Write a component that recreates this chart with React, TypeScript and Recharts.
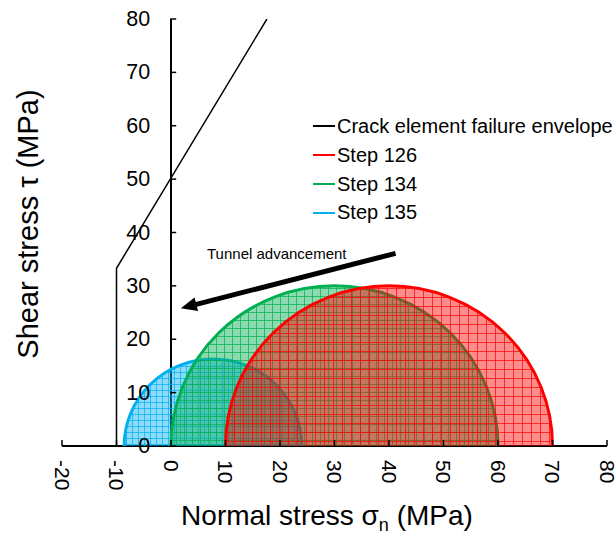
import { ComposedChart, Legend, ReferenceLine, Scatter, XAxis, YAxis } from "recharts";

const WIDTH = 616;
const HEIGHT = 538;
const PLOT = { left: 61, top: 19, right: 607, bottom: 446 };

const SIGMA_MIN = -20;
const SIGMA_MAX = 80;
const TAU_MAX = 80;

const sigmaTicks = [-20, -10, 0, 10, 20, 30, 40, 50, 60, 70, 80];
const tauTicks = [0, 10, 20, 30, 40, 50, 60, 70, 80];

// crack element envelope: tension cut-off, then a straight Coulomb line
const envelopeSigma = [-10, -10, 17.6];
const envelopeTau = [0, 33.3, 80];

// principal stresses (MPa) for each excavation step
const stepNames = ["Step 126", "Step 134", "Step 135"];
const stepColors = ["#ff0000", "#00b050", "#00b0f0"];
const stepGrid = [9, 8, 6];
const sigma3 = [10, 0, -8.6];
const sigma1 = [70, 60, 24];

// arrow showing the direction of tunnel advancement
const arrowSigma = [41.2, 1.8];
const arrowTau = [36.1, 25.8];

const FONT = "'Liberation Sans', Arial, sans-serif";
const AXIS_X = PLOT.left + ((PLOT.right - PLOT.left) * (0 - SIGMA_MIN)) / (SIGMA_MAX - SIGMA_MIN);

const envelopeData = envelopeSigma.map((x, i) => ({ x, y: envelopeTau[i] }));
const arrowData = arrowSigma.map((x, i) => ({ x, y: arrowTau[i] }));

// three points per circle: left end, crown, right end
const mohrData = (i: number) => {
  const c = (sigma3[i] + sigma1[i]) / 2;
  const r = (sigma1[i] - sigma3[i]) / 2;
  return [
    { x: sigma3[i], y: 0 },
    { x: c, y: r },
    { x: sigma1[i], y: 0 },
  ];
};

const hidden = () => <g />;

function mohrArc(i: number) {
  return (props: any) => {
    const [a, top, b] = props.points;
    const rx = (b.x - a.x) / 2;
    const ry = a.y - top.y;
    const arc = `M${a.x},${a.y} A${rx},${ry} 0 0 1 ${b.x},${b.y}`;
    return (
      <g>
        <path d={`${arc} Z`} fill={stepColors[i]} fillOpacity={0.45} stroke="none" />
        <path d={`${arc} Z`} fill={`url(#grid-${i})`} stroke="none" />
        <path d={arc} fill="none" stroke={stepColors[i]} strokeWidth={3} />
      </g>
    );
  };
}

function arrowLine(props: any) {
  const [a, b] = props.points;
  const dx = b.x - a.x;
  const dy = b.y - a.y;
  const len = Math.hypot(dx, dy);
  const ux = dx / len;
  const uy = dy / len;
  const head = 16;
  const half = 7;
  const bx = b.x - ux * head;
  const by = b.y - uy * head;
  return (
    <g>
      <line x1={a.x} y1={a.y} x2={bx + ux * 2} y2={by + uy * 2} stroke="#000" strokeWidth={5} />
      <polygon
        points={`${b.x},${b.y} ${bx - uy * half},${by + ux * half} ${bx + uy * half},${by - ux * half}`}
        fill="#000"
      />
    </g>
  );
}

function SigmaTick({ x, payload }: any) {
  const y = PLOT.bottom;
  return (
    <g>
      <line x1={x} x2={x} y1={y} y2={y - 6} stroke="#000" strokeWidth={1.5} />
      <text
        x={x}
        y={y + 14}
        transform={`rotate(90, ${x}, ${y + 14})`}
        textAnchor="start"
        dominantBaseline="central"
        fontSize={21}
        fill="#000"
      >
        {payload.value}
      </text>
    </g>
  );
}

function TauTick({ y, payload }: any) {
  return (
    <g>
      <line x1={AXIS_X} x2={AXIS_X + 6} y1={y} y2={y} stroke="#000" strokeWidth={1.5} />
      <text x={AXIS_X - 20} y={y} textAnchor="end" dominantBaseline="central" fontSize={21.5} fill="#000">
        {payload.value}
      </text>
    </g>
  );
}

const legendItems = [
  { name: "Crack element failure envelope", color: "#000" },
  ...stepNames.map((name, i) => ({ name, color: stepColors[i] })),
];

function LegendBox() {
  return (
    <div style={{ fontFamily: FONT, fontSize: 20, lineHeight: "28.8px", color: "#000", textAlign: "left" }}>
      {legendItems.map((item) => (
        <div key={item.name} style={{ display: "flex", alignItems: "center", whiteSpace: "nowrap" }}>
          <span style={{ display: "inline-block", width: 22, height: 2, background: item.color, marginRight: 2 }} />
          {item.name}
        </div>
      ))}
    </div>
  );
}

export default function App() {
  return (
    <div style={{ position: "absolute", left: 0, top: 0, width: WIDTH, height: HEIGHT, background: "#fff" }}>
      <ComposedChart
        width={WIDTH}
        height={HEIGHT}
        margin={{ top: PLOT.top, right: WIDTH - PLOT.right, left: PLOT.left, bottom: HEIGHT - PLOT.bottom - 60 }}
        style={{ fontFamily: FONT }}
      >
        <defs>
          {stepColors.map((color, i) => (
            <pattern
              key={color}
              id={`grid-${i}`}
              width={stepGrid[i]}
              height={stepGrid[i]}
              patternUnits="userSpaceOnUse"
            >
              <path
                d={`M0,0.5 H${stepGrid[i]} M0.5,0 V${stepGrid[i]}`}
                stroke={color}
                strokeWidth={1}
                strokeOpacity={0.7}
              />
            </pattern>
          ))}
        </defs>
        <XAxis
          type="number"
          dataKey="x"
          domain={[SIGMA_MIN, SIGMA_MAX]}
          ticks={sigmaTicks}
          interval={0}
          height={60}
          axisLine={{ stroke: "#000", strokeWidth: 2 }}
          tickLine={false}
          tick={<SigmaTick />}
          allowDataOverflow
          label={{
            content: () => (
              <text x={327} y={525} textAnchor="middle" fontSize={28} fill="#000" fontFamily={FONT}>
                Normal stress σ
                <tspan fontSize={18} dy={6}>n</tspan>
                <tspan dy={-6}> (MPa)</tspan>
              </text>
            ),
          }}
        />
        <YAxis
          type="number"
          dataKey="y"
          domain={[0, TAU_MAX]}
          ticks={tauTicks}
          interval={0}
          width={1}
          axisLine={false}
          tickLine={false}
          tick={<TauTick />}
          allowDataOverflow
          label={{
            content: () => (
              <text
                x={28}
                y={224}
                transform="rotate(-90, 28, 224)"
                textAnchor="middle"
                dominantBaseline="central"
                fontSize={29}
                fill="#000"
                fontFamily={FONT}
              >
                Shear stress τ (MPa)
              </text>
            ),
          }}
        />
        <ReferenceLine x={0} stroke="#000" strokeWidth={2} />
        {[2, 1, 0].map((i) => (
          <Scatter
            key={stepNames[i]}
            name={stepNames[i]}
            data={mohrData(i)}
            fill={stepColors[i]}
            shape={hidden}
            line={mohrArc(i)}
            lineType="joint"
            isAnimationActive={false}
          />
        ))}
        <Scatter
          name="Crack element failure envelope"
          data={envelopeData}
          fill="#000"
          shape={hidden}
          line={{ stroke: "#000", strokeWidth: 1.5 }}
          lineType="joint"
          isAnimationActive={false}
        />
        <Scatter
          name="Tunnel advancement"
          data={arrowData}
          fill="#000"
          shape={hidden}
          line={arrowLine}
          lineType="joint"
          isAnimationActive={false}
        />
        <Legend
          layout="horizontal"
          align="center"
          verticalAlign="middle"
          content={<LegendBox />}
          wrapperStyle={{ left: 313, top: 112, width: 300 }}
        />
      </ComposedChart>
      <div
        style={{
          position: "absolute",
          left: 207,
          top: 245,
          fontFamily: FONT,
          fontSize: 15,
          color: "#000",
          whiteSpace: "nowrap",
        }}
      >
        Tunnel advancement
      </div>
    </div>
  );
}
